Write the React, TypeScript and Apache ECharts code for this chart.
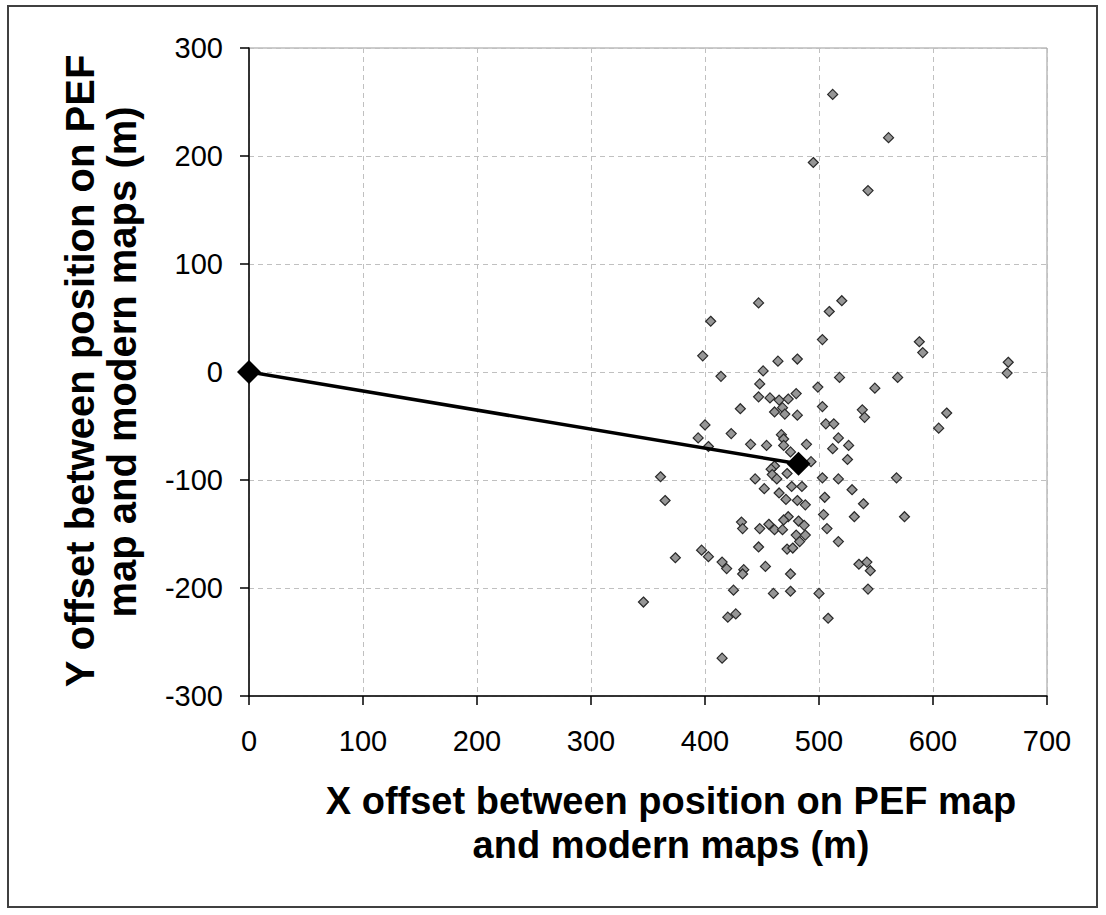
import React, { useEffect, useRef } from "react";
import * as echarts from "echarts";

const xTicks = [0, 100, 200, 300, 400, 500, 600, 700];
const yTicks = [-300, -200, -100, 0, 100, 200, 300];

const offsetX = [
  512, 495, 561, 543, 447, 405, 398, 414, 448, 447, 431, 400, 423, 394, 403, 440, 361, 444, 520, 509,
  503, 464, 481, 451, 518, 499, 549, 457, 465, 473, 480, 468, 461, 470, 481, 503, 538, 540, 506, 513,
  467, 469, 517, 454, 469, 489, 526, 475, 512, 493, 525, 461, 458, 472, 459, 463, 503, 517, 588, 591,
  666, 665, 569, 612, 605, 568, 365, 432, 433, 448, 447, 397, 403, 374, 415, 419, 434, 433, 425, 346,
  427, 420, 415, 452, 476, 485, 529, 465, 471, 481, 488, 505, 539, 504, 531, 473, 469, 482, 487, 456,
  461, 468, 507, 480, 488, 483, 517, 472, 477, 453, 475, 535, 542, 545, 460, 475, 500, 543, 508, 575,
];
const offsetY = [
  257, 194, 217, 168, 64, 47, 15, -4, -11, -23, -34, -49, -57, -61, -69, -67, -97, -99, 66, 56,
  30, 10, 12, 1, -5, -14, -15, -24, -26, -25, -20, -33, -37, -39, -40, -32, -35, -42, -48, -48,
  -58, -62, -61, -68, -68, -67, -68, -74, -71, -83, -81, -87, -90, -94, -95, -99, -98, -99, 28, 18,
  9, -1, -5, -38, -52, -98, -119, -139, -145, -145, -162, -165, -171, -172, -176, -182, -183, -187, -202, -213,
  -224, -227, -265, -108, -106, -106, -109, -112, -118, -119, -123, -116, -122, -132, -134, -134, -137, -138, -142, -141,
  -146, -146, -145, -151, -151, -157, -157, -164, -163, -180, -187, -178, -176, -184, -205, -203, -205, -201, -228, -134,
];

const meanLineX = [0, 482];
const meanLineY = [0, -85];

const xTitleLines = ["X offset between position on PEF map", "and modern maps (m)"];
const yTitleLines = ["Y offset between position on PEF", "map and modern maps (m)"];

export default function App() {
  const ref = useRef<HTMLDivElement>(null);
  useEffect(() => {
    if (!ref.current) return;
    const chart = echarts.init(ref.current, null, { renderer: "svg" });
    const pts = offsetX.map((x, i) => [x, offsetY[i]]);
    const line = meanLineX.map((x, i) => [x, meanLineY[i]]);
    const font = "Liberation Sans, Arial, sans-serif";
    const titleFont = `bold 38px ${font}`;
    const yTitleFont = `bold 40px ${font}`;
    chart.setOption({
      animation: false,
      backgroundColor: "#ffffff",
      grid: {
        left: 249,
        right: 59,
        top: 48,
        bottom: 219,
        show: true,
        borderColor: "#999999",
        borderWidth: 1,
        backgroundColor: "transparent",
      },
      xAxis: {
        type: "value",
        min: xTicks[0],
        max: xTicks[xTicks.length - 1],
        interval: 100,
        axisLine: { onZero: false, lineStyle: { color: "#000", width: 1.5 } },
        axisTick: { show: true, length: 9, lineStyle: { color: "#000", width: 1.5 } },
        axisLabel: { fontSize: 29, color: "#000", fontFamily: font, margin: 30 },
        splitLine: { show: true, lineStyle: { color: "#c0c0c0", type: [5, 4], width: 1 } },
      },
      yAxis: {
        type: "value",
        min: yTicks[0],
        max: yTicks[yTicks.length - 1],
        interval: 100,
        axisLine: { onZero: false, lineStyle: { color: "#000", width: 1.5 } },
        axisTick: { show: true, length: 9, lineStyle: { color: "#000", width: 1.5 } },
        axisLabel: { fontSize: 29, color: "#000", fontFamily: font, margin: 26 },
        splitLine: { show: true, lineStyle: { color: "#c0c0c0", type: [5, 4], width: 1 } },
      },
      series: [
        {
          type: "scatter",
          data: pts,
          symbol: "diamond",
          symbolSize: 10,
          itemStyle: { color: "#969696", borderColor: "#2a2a2a", borderWidth: 1.2, opacity: 1 },
          z: 3,
        },
        {
          type: "line",
          data: line,
          symbol: "diamond",
          symbolSize: 24,
          showSymbol: true,
          lineStyle: { color: "#000", width: 3.5 },
          itemStyle: { color: "#000" },
          z: 4,
        },
      ],
      graphic: [
        {
          type: "rect",
          shape: { x: 8, y: 6, width: 1089, height: 901 },
          style: { fill: "none", stroke: "#404040", lineWidth: 2 },
          silent: true,
        },
        {
          type: "text",
          x: 671,
          y: 801,
          style: { text: xTitleLines[0], font: titleFont, fill: "#000", align: "center", verticalAlign: "middle" },
        },
        {
          type: "text",
          x: 671,
          y: 845,
          style: { text: xTitleLines[1], font: titleFont, fill: "#000", align: "center", verticalAlign: "middle" },
        },
        {
          type: "text",
          x: 80,
          y: 371,
          rotation: Math.PI / 2,
          style: { text: yTitleLines[0], font: yTitleFont, fill: "#000", align: "center", verticalAlign: "middle" },
        },
        {
          type: "text",
          x: 122,
          y: 362,
          rotation: Math.PI / 2,
          style: { text: yTitleLines[1], font: yTitleFont, fill: "#000", align: "center", verticalAlign: "middle" },
        },
      ],
    });
    return () => chart.dispose();
  }, []);
  return (
    <div
      ref={ref}
      style={{ position: "absolute", left: 0, top: 0, width: 1106, height: 915 }}
    />
  );
}
